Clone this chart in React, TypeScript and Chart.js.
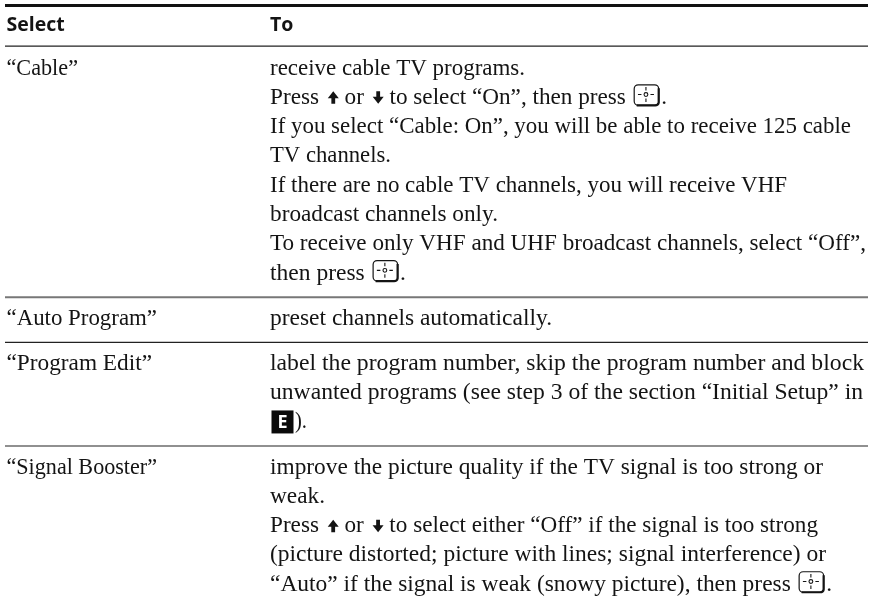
import React, { useEffect, useRef } from "react";
import { Chart, registerables } from "chart.js";

Chart.register(...registerables);

const headers = ["Select", "To"];
const selectLabels = ["“Cable”", "“Auto Program”", "“Program Edit”", "“Signal Booster”"];
const cableLines = [
  "receive cable TV programs.",
  "Press {up} or {down} to select “On”, then press {enter}.",
  "If you select “Cable: On”, you will be able to receive 125 cable",
  "TV channels.",
  "If there are no cable TV channels, you will receive VHF",
  "broadcast channels only.",
  "To receive only VHF and UHF broadcast channels, select “Off”,",
  "then press {enter}.",
];
const autoLines = ["preset channels automatically."];
const editLines = [
  "label the program number, skip the program number and block",
  "unwanted programs (see step 3 of the section “Initial Setup” in",
  "{E}).",
];
const boosterLines = [
  "improve the picture quality if the TV signal is too strong or",
  "weak.",
  "Press {up} or {down} to select either “Off” if the signal is too strong",
  "(picture distorted; picture with lines; signal interference) or",
  "“Auto” if the signal is weak (snowy picture), then press {enter}.",
];
const rowLines = [cableLines, autoLines, editLines, boosterLines];

// Where each set line ends on the page, so the substitute serif keeps the original measure.
const labelEnds = [78, 157, 152, 157];
const rowEnds = [
  [525, 667, 851, 391, 787, 498, 866, 406],
  [552],
  [864, 863, 307],
  [823, 325, 818, 826, 832],
];

const COL_X = [6.5, 270];
const RULE_X = [5, 868];
const ROW_GAP = 1.54;
const RULE_OFFSET = 0.6;
const LINE_PX = 29.3;
const FIRST_BASELINE_PX = 74.5;
const INK = "#141414";
const BODY_FONT = '24px "Liberation Serif"';
const HEAD_FONT = 'bold 19.5px "Open Sans"';

type Cell = { x: number; y: number; text: string; head?: boolean; end?: number };

function buildCells() {
  const cells: Cell[] = [
    { x: COL_X[0], y: -1.47, text: headers[0], head: true },
    { x: COL_X[1], y: -1.47, text: headers[1], head: true },
  ];
  const rules: number[] = [];
  let line = 0;
  rowLines.forEach((lines, r) => {
    cells.push({ x: COL_X[0], y: line, text: selectLabels[r], end: labelEnds[r] });
    lines.forEach((t, i) => cells.push({ x: COL_X[1], y: line + i, text: t, end: rowEnds[r][i] }));
    line += lines.length - 1;
    if (r < rowLines.length - 1) rules.push(line + RULE_OFFSET);
    line += ROW_GAP;
  });
  return { cells, rules };
}

function drawArrow(ctx: CanvasRenderingContext2D, x: number, y: number, up: boolean) {
  const dir = up ? -1 : 1;
  const start = up ? y : y - 12.5;
  const mid = start + dir * 5.5;
  const tip = start + dir * 12.5;
  ctx.beginPath();
  ctx.moveTo(x + 3.6, start);
  ctx.lineTo(x + 7.4, start);
  ctx.lineTo(x + 7.4, mid);
  ctx.lineTo(x + 11, mid);
  ctx.lineTo(x + 5.5, tip);
  ctx.lineTo(x, mid);
  ctx.lineTo(x + 3.6, mid);
  ctx.closePath();
  ctx.fillStyle = INK;
  ctx.fill();
}

function drawEnter(ctx: CanvasRenderingContext2D, x: number, y: number) {
  const w = 24.5;
  const h = 20.5;
  const top = y - 19.5;
  ctx.strokeStyle = INK;
  ctx.lineWidth = 1.2;
  ctx.beginPath();
  ctx.roundRect(x + 0.5, top + 0.5, w, h, 4);
  ctx.stroke();
  ctx.lineWidth = 2.2;
  ctx.beginPath();
  ctx.moveTo(x + w + 0.5, top + 4);
  ctx.lineTo(x + w + 0.5, top + h - 2);
  ctx.quadraticCurveTo(x + w, top + h + 0.5, x + w - 3, top + h + 0.5);
  ctx.lineTo(x + 3, top + h + 0.5);
  ctx.stroke();
  const cx = x + w / 2;
  const cy = top + h / 2;
  ctx.lineWidth = 1.1;
  ctx.beginPath();
  ctx.arc(cx, cy, 1.9, 0, Math.PI * 2);
  ctx.moveTo(cx, cy - 7.5);
  ctx.lineTo(cx, cy - 4);
  ctx.moveTo(cx, cy + 4);
  ctx.lineTo(cx, cy + 7.5);
  ctx.moveTo(cx - 8, cy);
  ctx.lineTo(cx - 4.5, cy);
  ctx.moveTo(cx + 4.5, cy);
  ctx.lineTo(cx + 8, cy);
  ctx.stroke();
}

function drawBadge(ctx: CanvasRenderingContext2D, x: number, y: number) {
  ctx.fillStyle = "#0a0a0a";
  ctx.fillRect(x, y - 18, 22, 23);
  ctx.fillStyle = "#ffffff";
  ctx.font = 'bold 18px "Open Sans"';
  ctx.textAlign = "center";
  ctx.fillText("E", x + 11, y - 0.2);
  ctx.textAlign = "left";
}

const TOKEN_WIDTH: Record<string, number> = { up: 14, down: 14, enter: 29.5, E: 25 };

const tablePlugin = {
  id: "tableText",
  afterDatasetsDraw(chart: any) {
    const ctx: CanvasRenderingContext2D = chart.ctx;
    const meta = chart.getDatasetMeta(0);
    const cells: Cell[] = chart.data.datasets[0].data;
    ctx.save();
    ctx.textBaseline = "alphabetic";
    ctx.textAlign = "left";
    cells.forEach((cell, i) => {
      const pt = meta.data[i];
      let x: number = pt.x;
      const y: number = pt.y;
      const font = cell.head ? HEAD_FONT : BODY_FONT;
      const parts = cell.text.split(/(\{[a-zA-Z]+\})/).filter(Boolean);
      ctx.font = font;
      let textWidth = 0;
      let tokenWidth = 0;
      parts.forEach((part) => {
        const m = part.match(/^\{(.+)\}$/);
        if (m) tokenWidth += TOKEN_WIDTH[m[1]];
        else textWidth += ctx.measureText(part).width;
      });
      const sx = cell.end ? (cell.end - x - tokenWidth) / textWidth : 1;
      parts.forEach((part) => {
        const m = part.match(/^\{(.+)\}$/);
        if (m) {
          const key = m[1];
          if (key === "up") drawArrow(ctx, x + 3, y, true);
          if (key === "down") drawArrow(ctx, x + 3, y, false);
          if (key === "enter") drawEnter(ctx, x + 2, y);
          if (key === "E") drawBadge(ctx, x + 1.5, y);
          x += TOKEN_WIDTH[key];
          return;
        }
        ctx.font = font;
        ctx.fillStyle = INK;
        ctx.save();
        ctx.translate(x, y);
        ctx.scale(sx, 1);
        ctx.fillText(part, 0, 0);
        ctx.restore();
        x += ctx.measureText(part).width * sx;
      });
    });
    ctx.restore();
  },
};

export default function App() {
  const ref = useRef<HTMLCanvasElement>(null);
  useEffect(() => {
    document.body.style.margin = "0";
    document.body.style.background = "#ffffff";
    const { cells, rules } = buildCells();
    const ruleSet = (y: number, width: number, color: string, label: string) => ({
      type: "line" as const,
      label,
      data: RULE_X.map((x) => ({ x, y })),
      borderColor: color,
      borderWidth: width,
      pointRadius: 0,
      showLine: true,
    });
    const chart = new Chart(ref.current!, {
      type: "scatter",
      data: {
        datasets: [
          { label: "cells", data: cells, pointRadius: 0, showLine: false } as any,
          ruleSet(-2.355, 3, "#111111", "top rule"),
          ruleSet(-0.967, 1.2, "#222222", "header rule"),
          ruleSet(rules[0], 2, "#777777", "rule 1"),
          ruleSet(rules[1], 1.2, "#222222", "rule 2"),
          ruleSet(rules[2], 1.2, "#222222", "rule 3"),
        ],
      },
      options: {
        animation: false,
        responsive: false,
        parsing: { xAxisKey: "x", yAxisKey: "y" },
        layout: { padding: 0 },
        plugins: { legend: { display: false }, tooltip: { enabled: false } },
        events: [],
        scales: {
          x: { type: "linear", display: false, min: 0, max: 875 },
          y: {
            type: "linear",
            display: false,
            reverse: true,
            min: -FIRST_BASELINE_PX / LINE_PX,
            max: (606 - FIRST_BASELINE_PX) / LINE_PX,
          },
        },
      },
      plugins: [tablePlugin],
    } as any);
    return () => chart.destroy();
  }, []);
  return <canvas ref={ref} width={875} height={606} style={{ display: "block" }} />;
}
